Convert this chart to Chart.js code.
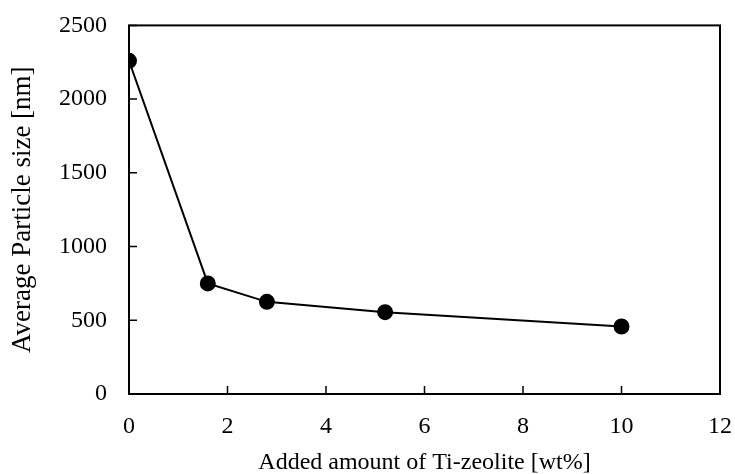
<!DOCTYPE html>
<html>
<head>
<meta charset="utf-8">
<script src="https://cdn.jsdelivr.net/npm/chart.js@4/dist/chart.umd.min.js"></script>
<style>
  html, body { margin: 0; padding: 0; background: #fff; }
  #wrap { width: 735px; height: 474px; }
</style>
</head>
<body>
<div id="wrap"><canvas id="chart" width="735" height="474"></canvas></div>
<script>
// data
const tiAmount = [0, 1.6, 2.8, 5.2, 10];
const particleSize = [2260, 750, 625, 555, 458];
const xTicks = [0, 2, 4, 6, 8, 10, 12];
const yTicks = [0, 500, 1000, 1500, 2000, 2500];

const serif = '"Liberation Serif", "DejaVu Serif", serif';
const font = { family: serif, size: 24 };
const xTitleFont = { family: serif, size: 24, lineHeight: 0.9 };
const yTitleFont = { family: serif, size: 27, lineHeight: 0.9 };

// frame round the plot plus inward tick marks
const frame = {
    id: 'frame',
    afterDraw(chart) {
        const c = chart.ctx;
        const a = chart.chartArea;
        c.save();
        c.strokeStyle = '#000';
        c.lineWidth = 2;
        c.strokeRect(a.left, a.top, a.right - a.left, a.bottom - a.top);
        c.lineWidth = 1.5;
        c.beginPath();
        xTicks.forEach(v => {
            const px = chart.scales.x.getPixelForValue(v);
            c.moveTo(px, a.bottom);
            c.lineTo(px, a.bottom - 8);
        });
        yTicks.forEach(v => {
            const py = chart.scales.y.getPixelForValue(v);
            c.moveTo(a.left, py);
            c.lineTo(a.left + 8, py);
        });
        c.stroke();
        c.restore();
    }
};

new Chart(document.getElementById('chart'), {
    type: 'scatter',
    data: {
        datasets: [{
            data: tiAmount.map((x, i) => ({ x: x, y: particleSize[i] })),
            showLine: true,
            borderColor: '#000',
            backgroundColor: '#000',
            borderWidth: 2,
            pointRadius: 7,
            pointHoverRadius: 7,
            tension: 0
        }]
    },
    options: {
        responsive: false,
        animation: false,
        layout: { padding: { top: 0, right: 0, left: 10.35, bottom: 0 } },
        scales: {
            x: {
                type: 'linear',
                min: 0,
                max: 12,
                afterBuildTicks: s => { s.ticks = xTicks.map(v => ({ value: v })); },
                grid: { display: false, tickLength: 15 },
                border: { display: false },
                ticks: { color: '#000', font: font, padding: 3, maxRotation: 0, callback: v => String(v) },
                title: { display: true, text: 'Added amount of Ti-zeolite [wt%]', color: '#000', font: xTitleFont, padding: { top: 8.6, bottom: 0 } }
            },
            y: {
                min: 0,
                max: 2500,
                afterBuildTicks: s => { s.ticks = yTicks.map(v => ({ value: v })); },
                grid: { display: false, tickLength: 11 },
                border: { display: false },
                ticks: { color: '#000', font: font, padding: 11, callback: v => String(v) },
                title: { display: true, text: 'Average Particle size [nm]', color: '#000', font: yTitleFont, padding: { top: 0, bottom: 13.35 } }
            }
        },
        plugins: {
            legend: { display: false },
            tooltip: { enabled: false }
        }
    },
    plugins: [frame]
});
</script>
</body>
</html>
